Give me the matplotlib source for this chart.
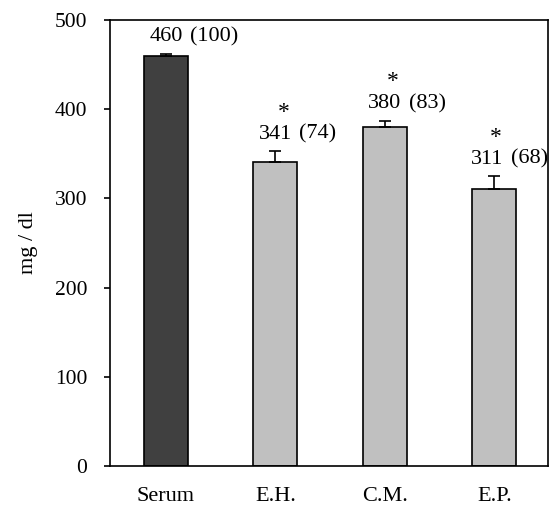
import numpy as np
import matplotlib.pyplot as plt

plt.rcParams['font.family'] = ['Liberation Serif', 'DejaVu Serif']

# data
groups = ['Serum', 'E.H.', 'C.M.', 'E.P.']
values = [460, 341, 380, 311]
errors = [2, 12, 7, 14]
percent = [100, 74, 83, 68]
signif = [False, True, True, True]

colors = ['#404040', '#c0c0c0', '#c0c0c0', '#c0c0c0']
shift = [0, 0, 0, -7]  # px nudge for labels near the right edge

fig = plt.figure(figsize=(5.5, 5.07), dpi=100)
ax = fig.add_axes([0.2, 0.081, 0.7964, 0.8796])

x = np.arange(len(groups))
ax.bar(x, values, width=0.4, color=colors, edgecolor='black', linewidth=1.2, zorder=2)
ax.errorbar(x, values, yerr=[np.zeros(len(errors)), errors], fmt='none',
            ecolor='black', elinewidth=1.2, capsize=4.3, capthick=1.2, zorder=3)

# value labels: number centred on bar, percentage just after it
for xi, v, e, p, s, dx in zip(x, values, errors, percent, signif, shift):
    top = v + e
    ax.annotate(str(v), (xi, top), xytext=(dx, 17), textcoords='offset pixels',
                ha='center', va='center', fontsize=16)
    ax.annotate('(%d)' % p, (xi, top), xytext=(dx + 24, 17), textcoords='offset pixels',
                ha='left', va='center', fontsize=16)
    if s:
        ax.annotate('*', (xi, top), xytext=(dx + 8, 39), textcoords='offset pixels',
                    ha='center', va='center', fontsize=17)

ax.set_xlim(-0.51, 3.49)
ax.set_ylim(0, 500)
ax.set_yticks([0, 100, 200, 300, 400, 500])
ax.set_xticks(x)
ax.set_xticklabels(groups)
ax.tick_params(axis='x', length=0, pad=15, labelsize=16)
ax.tick_params(axis='y', length=4.3, width=1.2, pad=12, labelsize=15.5)
ax.set_ylabel('mg / dl', fontsize=16)
ax.yaxis.set_label_coords(-0.165, 0.5)

for sp in ax.spines.values():
    sp.set_linewidth(1.2)

fig.savefig('out.png', dpi=100)
